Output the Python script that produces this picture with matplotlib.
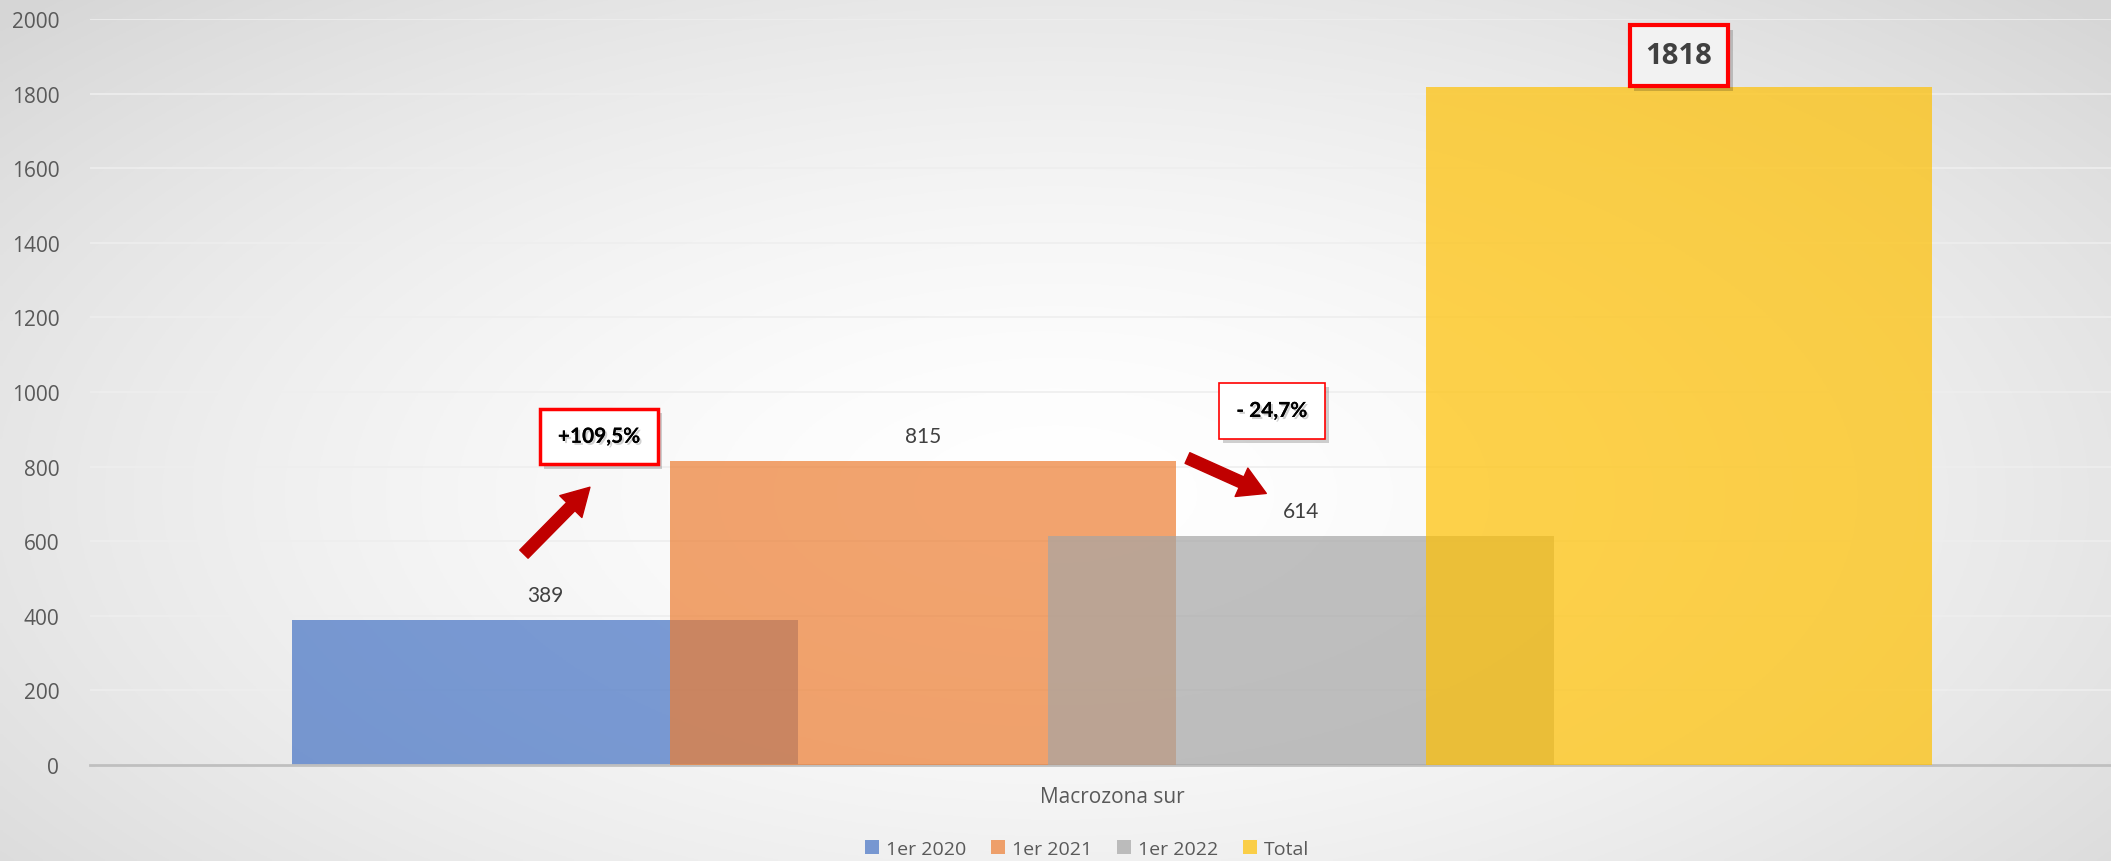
import numpy as np
import matplotlib.pyplot as plt
import matplotlib.patheffects as pe

# data
series = ["1er 2020", "1er 2021", "1er 2022", "Total"]
values = [389, 815, 614, 1818]
category = "Macrozona sur"
colors = ["#4472C4", "#ED7D31", "#A5A5A5", "#FFC000"]
yticks = [0, 200, 400, 600, 800, 1000, 1200, 1400, 1600, 1800, 2000]

fig = plt.figure(figsize=(21.11, 8.62), dpi=100)

# radial grey background
bg = fig.add_axes([0, 0, 1, 1], zorder=-5)
xx, yy = np.meshgrid(np.linspace(-1, 1, 600), np.linspace(-1, 1, 300))
r = np.sqrt((xx / 1.05) ** 2 + ((yy - 0.15) / 1.25) ** 2)
shade = 1.0 - 0.105 * np.clip(r, 0, 1.3) ** 1.6
bg.imshow(np.dstack([shade, shade, shade]), aspect="auto", extent=[0, 1, 0, 1])
bg.axis("off")

ax = fig.add_axes([0.0426, 0.1114, 0.9574, 0.8654])
ax.set_facecolor("none")

pos = np.arange(len(values))
for i in range(len(values)):
    ax.bar(pos[i], values[i], width=1.34, color=colors[i], alpha=0.7,
           linewidth=0, zorder=2 + i, label=series[i])

# data labels
for i in range(3):
    ax.annotate(str(values[i]), (pos[i], values[i]), xytext=(0, 11),
                textcoords="offset points", ha="center", va="bottom",
                fontsize=15, color="#404040", family="Lato", zorder=10)

shadow = [pe.withSimplePatchShadow(offset=(3, -3), shadow_rgbFace="#000000", alpha=0.18)]
txt_shadow = [pe.withSimplePatchShadow(offset=(1.5, -1.5), alpha=0.18), pe.Normal()]

t = ax.text(pos[3], values[3] + 83, str(values[3]), ha="center", va="center",
            fontsize=21, fontweight="bold", color="#404040", family="Open Sans",
            zorder=12, bbox=dict(boxstyle="square,pad=0.55", fc="#f2f2f2",
                                 ec="#ff0000", lw=3))
t.get_bbox_patch().set_path_effects(shadow)

t = ax.text(0.143, 880, "+109,5%", ha="center", va="center",
            fontsize=15, fontweight="bold", color="#000000", family="Lato",
            zorder=12, bbox=dict(boxstyle="square,pad=0.85", fc="#ffffff",
                                 ec="#ff0000", lw=2.5))
t.get_bbox_patch().set_path_effects(shadow)
t.set_path_effects(txt_shadow)

t = ax.text(1.923, 949, "- 24,7%", ha="center", va="center",
            fontsize=15, fontweight="bold", color="#000000", family="Lato",
            zorder=12, bbox=dict(boxstyle="square,pad=0.85", fc="#ffffff",
                                 ec="#ff0000", lw=1.2))
t.get_bbox_patch().set_path_effects(shadow)
t.set_path_effects(txt_shadow)

# arrows
arrow_style = dict(arrowstyle="simple,head_length=1.4,head_width=1.6,tail_width=0.6",
                   fc="#C00000", ec="#C00000", mutation_scale=14)
ax.annotate("", xy=(0.124, 750), xytext=(-0.061, 560),
            arrowprops=arrow_style, zorder=11)
ax.annotate("", xy=(1.915, 725), xytext=(1.693, 826),
            arrowprops=arrow_style, zorder=11)

ax.set_xlim(-1.204, 4.143)
ax.set_ylim(0, 2000)
ax.set_yticks(yticks)
ax.set_xticks([1.5])
ax.set_xticklabels([category])
ax.tick_params(axis="both", length=0, labelsize=15, colors="#595959", pad=22)
ax.tick_params(axis="x", pad=15)
for lab in ax.get_xticklabels() + ax.get_yticklabels():
    lab.set_family("Open Sans")
ax.grid(axis="y", color="#eeeeee", lw=1.2, zorder=0)
ax.set_axisbelow(True)
for s in ["top", "right", "left"]:
    ax.spines[s].set_visible(False)
ax.spines["bottom"].set_color("#bfbfbf")
ax.spines["bottom"].set_linewidth(2)

leg = fig.legend(loc="center", bbox_to_anchor=(0.515, 0.014), ncol=4,
                 frameon=False, handlelength=0.7, handleheight=0.7,
                 columnspacing=1.3, handletextpad=0.35,
                 prop={"family": "Open Sans", "size": 14})
for txt in leg.get_texts():
    txt.set_color("#595959")

fig.savefig("out.png", dpi=100)
